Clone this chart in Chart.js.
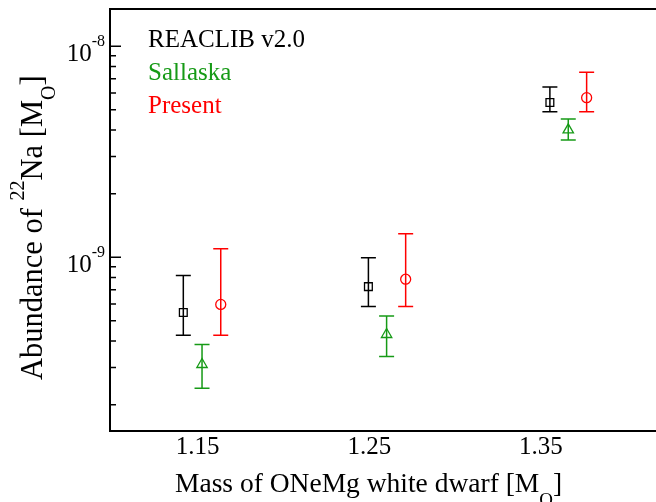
<!DOCTYPE html>
<html>
<head>
<meta charset="utf-8">
<script src="https://cdn.jsdelivr.net/npm/chart.js@4.4.0/dist/chart.umd.min.js"></script>
<style>
  html, body { margin: 0; padding: 0; background: #fff; overflow: hidden; }
  #wrap { width: 656px; height: 502px; }
</style>
</head>
<body>
<div id="wrap"><canvas id="c" width="656" height="502"></canvas></div>
<script>
// ---- Daten ----
const seriesNames  = ["REACLIB v2.0", "Sallaska", "Present"];
const seriesColors = ["#000000", "#169a16", "#ff0000"];
const seriesShapes = ["rect", "triangle", "circle"];

// WD-Masse (leicht versetzt pro Serie)
const massReaclib  = [1.1417, 1.2495, 1.3552];
const massSallaska = [1.1526, 1.2601, 1.3659];
const massPresent  = [1.1635, 1.2712, 1.3766];

// 22Na in M_sun, mit Fehlerbalken (unten / oben)
const naReaclib    = [5.47e-10, 7.25e-10, 5.41e-9];
const naReaclibLo  = [4.27e-10, 5.84e-10, 4.89e-9];
const naReaclibHi  = [8.18e-10, 9.93e-10, 6.41e-9];

const naSallaska   = [3.10e-10, 4.30e-10, 4.01e-9];
const naSallaskaLo = [2.39e-10, 3.38e-10, 3.59e-9];
const naSallaskaHi = [3.85e-10, 5.26e-10, 4.51e-9];

const naPresent    = [5.97e-10, 7.86e-10, 5.70e-9];
const naPresentLo  = [4.27e-10, 5.84e-10, 4.89e-9];
const naPresentHi  = [1.096e-9, 1.29e-9, 7.52e-9];

// Achsen
const xTickValues = [1.15, 1.25, 1.35];
const xTickLabels = ["1.15", "1.25", "1.35"];
const yMajorTicks = [1e-9, 1e-8];
const yMajorExp   = ["-9", "-8"];
const yMinorTicks = [2e-10, 3e-10, 4e-10, 5e-10, 6e-10, 7e-10, 8e-10, 9e-10,
                     2e-9, 3e-9, 4e-9, 5e-9, 6e-9, 7e-9, 8e-9, 9e-9];

const SERIF = '"Liberation Serif", "Times New Roman", serif';

const allMass = [massReaclib, massSallaska, massPresent];
const allNa   = [naReaclib, naSallaska, naPresent];
const allLo   = [naReaclibLo, naSallaskaLo, naPresentLo];
const allHi   = [naReaclibHi, naSallaskaHi, naPresentHi];
const radii   = [5.5, 6, 5];

const datasets = seriesNames.map((name, i) => ({
  label: name,
  data: allMass[i].map((m, k) => ({ x: m, y: allNa[i][k], lo: allLo[i][k], hi: allHi[i][k] })),
  pointStyle: seriesShapes[i],
  pointRadius: radii[i],
  pointHoverRadius: radii[i],
  borderColor: seriesColors[i],
  backgroundColor: "rgba(0,0,0,0)",
  borderWidth: 1.3,
  showLine: false
}));

// ---- Text mit Hoch-/Tiefstellung ----
function drawRich(ctx, parts, x, y) {
  let cx = x;
  parts.forEach(p => {
    ctx.font = `${p.size}px ${SERIF}`;
    ctx.fillText(p.t, cx, y + (p.dy || 0));
    cx += ctx.measureText(p.t).width;
  });
  return cx - x;
}
function richWidth(ctx, parts) {
  let w = 0;
  parts.forEach(p => { ctx.font = `${p.size}px ${SERIF}`; w += ctx.measureText(p.t).width; });
  return w;
}

// ---- Plugin: Fehlerbalken, Rahmen, Ticks, Beschriftung ----
const decor = {
  id: "decor",
  beforeDatasetsDraw(chart) {
    const ctx = chart.ctx, xs = chart.scales.x, ys = chart.scales.y;
    ctx.save();
    chart.data.datasets.forEach(ds => {
      ctx.strokeStyle = ds.borderColor;
      ctx.lineWidth = 1.5;
      ds.data.forEach(p => {
        const px = xs.getPixelForValue(p.x);
        const yl = ys.getPixelForValue(p.lo), yh = ys.getPixelForValue(p.hi);
        ctx.beginPath();
        ctx.moveTo(px, yl); ctx.lineTo(px, yh);
        ctx.moveTo(px - 7.5, yl); ctx.lineTo(px + 7.5, yl);
        ctx.moveTo(px - 7.5, yh); ctx.lineTo(px + 7.5, yh);
        ctx.stroke();
      });
    });
    ctx.restore();
  },
  afterDraw(chart) {
    const ctx = chart.ctx, a = chart.chartArea;
    const xs = chart.scales.x, ys = chart.scales.y;
    ctx.save();
    ctx.strokeStyle = "#000";
    ctx.fillStyle = "#000";

    // Rahmen (rechte Kante liegt ausserhalb des Bildes)
    ctx.lineWidth = 2;
    ctx.beginPath();
    ctx.moveTo(chart.width + 5, a.top);
    ctx.lineTo(a.left, a.top);
    ctx.lineTo(a.left, a.bottom);
    ctx.lineTo(chart.width + 5, a.bottom);
    ctx.stroke();

    // y-Ticks nach innen
    ctx.lineWidth = 1.5;
    ctx.beginPath();
    yMajorTicks.forEach(v => {
      const py = ys.getPixelForValue(v);
      ctx.moveTo(a.left, py); ctx.lineTo(a.left + 11, py);
    });
    yMinorTicks.forEach(v => {
      const py = ys.getPixelForValue(v);
      ctx.moveTo(a.left, py); ctx.lineTo(a.left + 6, py);
    });
    ctx.stroke();

    // y-Beschriftung 10^n
    ctx.textAlign = "left";
    ctx.textBaseline = "alphabetic";
    yMajorTicks.forEach((v, i) => {
      const py = ys.getPixelForValue(v);
      const parts = [{ t: "10", size: 25, dy: 15 }, { t: yMajorExp[i], size: 16, dy: 0 }];
      const w = richWidth(ctx, parts);
      drawRich(ctx, parts, a.left - 5 - w, py);
    });

    // x-Beschriftung
    ctx.font = `25px ${SERIF}`;
    ctx.textAlign = "center";
    xTickValues.forEach((v, i) => {
      ctx.fillText(xTickLabels[i], xs.getPixelForValue(v), 454);
    });

    // Achsentitel
    ctx.textAlign = "left";
    drawRich(ctx, [
      { t: "Mass of ONeMg white dwarf [M", size: 27.5 },
      { t: "O", size: 19, dy: 14 },
      { t: "]", size: 27.5 }
    ], 175, 492);

    ctx.save();
    ctx.translate(42, 380);
    ctx.rotate(-Math.PI / 2);
    drawRich(ctx, [
      { t: "Abundance of ", size: 30.5 },
      { t: "22", size: 20, dy: -18 },
      { t: "Na [M", size: 30.5 },
      { t: "O", size: 20, dy: 13 },
      { t: "]", size: 30.5 }
    ], 0, 0);
    ctx.restore();

    // Legende (nur Text)
    ctx.font = `25px ${SERIF}`;
    chart.data.datasets.forEach((ds, i) => {
      ctx.fillStyle = ds.borderColor;
      ctx.fillText(ds.label, 148, 47 + i * 33);
    });
    ctx.restore();
  }
};

let chart;
function initChart() {
  const ctx = document.getElementById("c").getContext("2d");
  chart = new Chart(ctx, {
    type: "scatter",
    data: { datasets },
    options: {
      responsive: false,
      animation: false,
      layout: { autoPadding: false, padding: { left: 110, top: 9, right: 0, bottom: 71 } },
      plugins: { legend: { display: false }, tooltip: { enabled: false } },
      scales: {
        x: { type: "linear", min: 1.099, max: 1.417, display: false },
        y: { type: "logarithmic", min: 1.5e-10, max: 1.5e-8, display: false }
      }
    },
    plugins: [decor]
  });
}

window.addEventListener("load", initChart);
</script>
</body>
</html>
